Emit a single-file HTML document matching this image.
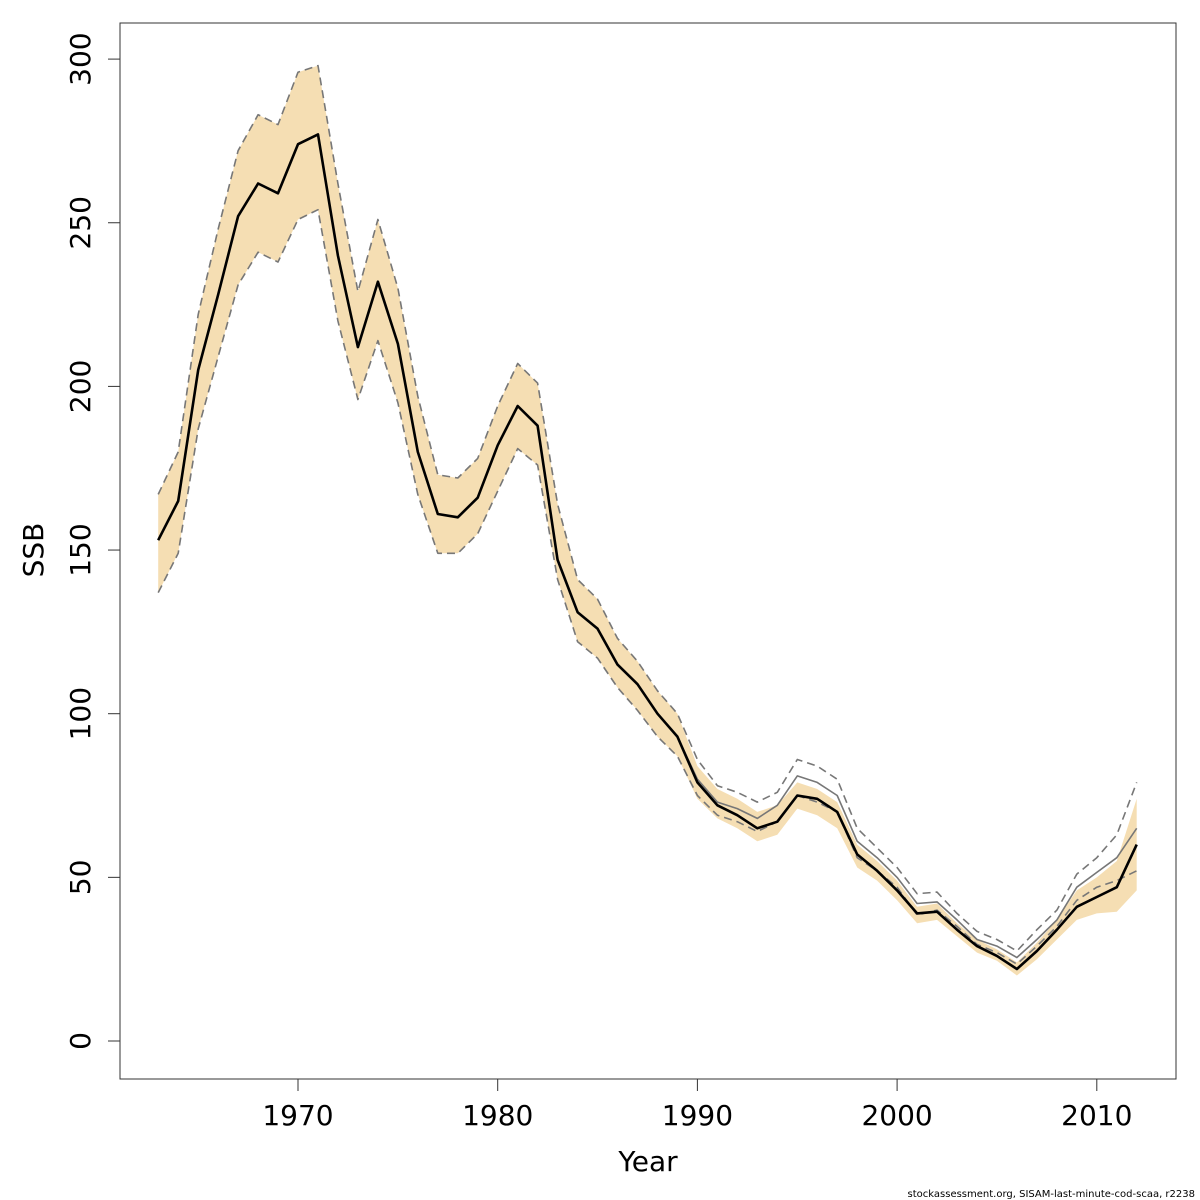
<!DOCTYPE html>
<html><head><meta charset="utf-8"><style>
body{margin:0;background:#fff}
svg{display:block;font-family:"DejaVu Sans","Liberation Sans",sans-serif}
</style></head><body>
<svg id="chart" width="1200" height="1200" viewBox="0 0 1200 1200">
<g id="band"></g>
<g id="lines"></g>
<rect x="120" y="23" width="1056" height="1056" fill="none" stroke="#333" stroke-width="1"/>
<g id="xaxis"></g>
<g id="yaxis"></g>
<text x="648" y="1171" font-size="28" text-anchor="middle">Year</text>
<text transform="translate(43,550) rotate(-90)" font-size="28" text-anchor="middle">SSB</text>
<text x="1195" y="1197" font-size="10" text-anchor="end">stockassessment.org, SISAM-last-minute-cod-scaa, r2238</text>
</svg>
<script>
const years=[];for(let y=1963;y<=2012;y++)years.push(y);
const ssb=[153,165,205,228,252,262,259,274,277,240,212,232,213,180,161,160,166,182,194,188,147,131,126,115,109,100,93,79,72,69,65,67,75,74,70,57,52,46,39,39.5,34,29,26,22,27.5,34,41,44,47,60];
const bandUpper=[167,180,222,248,272,283,280,296,298,262,229,251,230,197,173,172,178,194,207,201,164,141,135,123,116,107,100,84,77,74,70,72,79,77,73,60,55,49,41,42,36,31,28,24,30,37,46,50,55,74];
const bandLower=[137,149,187,209,231,241,238,251,254,220,196,214,195,167,149,149,155,168,181,176,141,122,117,108,101,93,87,74,68,65,61,63,71,69,65,53,49,43,36,37,32,27,24.5,20,25,31,37,39,39.5,46];
const alt=[153,165,205,228,252,262,259,274,277,240,212,232,213,180,161,160,166,182,194,188,147,131,126,115,109,100,93,80,73,71,68,72,81,79,75,61,56,50,42,42.5,37,31,29,25.5,31,37,47,51.5,56,65];
const altUpper=[167,180,222,248,272,283,280,296,298,262,229,251,230,197,173,172,178,194,207,201,164,141,135,123,116,107,100,86,78,76,73,76,86,84,80,65,59,53,45,45.5,39,33.5,31,27.5,34,40,51,56,63,79];
const altLower=[137,149,187,209,231,241,238,251,254,220,196,214,195,167,149,149,155,168,181,176,141,122,117,108,101,93,87,75,69,67,64,67,75,73,70,56,52,47,38.5,40,35,29.5,27,23.5,29,35,43,47,49,52];
const xTicks=[1970,1980,1990,2000,2010];
const yTicks=[0,50,100,150,200,250,300];
const X=y=>298+(y-1970)*19.97;
const Y=v=>1041-v*3.273;
const NS="http://www.w3.org/2000/svg";
function mk(t,a,p){const e=document.createElementNS(NS,t);for(const k in a)e.setAttribute(k,a[k]);p.appendChild(e);return e;}
const pts=arr=>arr.map((v,i)=>X(years[i]).toFixed(1)+","+Y(v).toFixed(1));
const band=document.getElementById('band');
const bp=mk('polygon',{points:pts(bandUpper).concat(pts(bandLower).reverse()).join(' '),fill:'#f5deb3'},band);


const lines=document.getElementById('lines');
const defs=[[altUpper,'#777',1.6,'8,5','alt-upper-ci'],[altLower,'#777',1.6,'8,5','alt-lower-ci'],[alt,'#777',1.6,'','alt-estimate-line'],[ssb,'#000',2.6,'','ssb-line']];
defs.forEach(d=>{
  const e=mk('polyline',{points:pts(d[0]).join(' '),fill:'none',stroke:d[1],'stroke-width':d[2],'stroke-dasharray':d[3]||'none','stroke-linejoin':'round'},lines);
  
  
});
const xa=document.getElementById('xaxis');
xTicks.forEach(t=>{
  const l=mk('line',{x1:X(t),x2:X(t),y1:1079,y2:1091,stroke:'#333'},xa);
  
  
  const tx=mk('text',{x:X(t),y:1125,'font-size':28,'text-anchor':'middle'},xa);tx.textContent=t;
  
  
});
const ya=document.getElementById('yaxis');
yTicks.forEach(t=>{
  const l=mk('line',{x1:108,x2:120,y1:Y(t),y2:Y(t),stroke:'#333'},ya);
  
  
  const tx=mk('text',{transform:`translate(90,${Y(t)}) rotate(-90)`,'font-size':28,'text-anchor':'middle'},ya);tx.textContent=t;
  
  
});
</script>
</body></html>
